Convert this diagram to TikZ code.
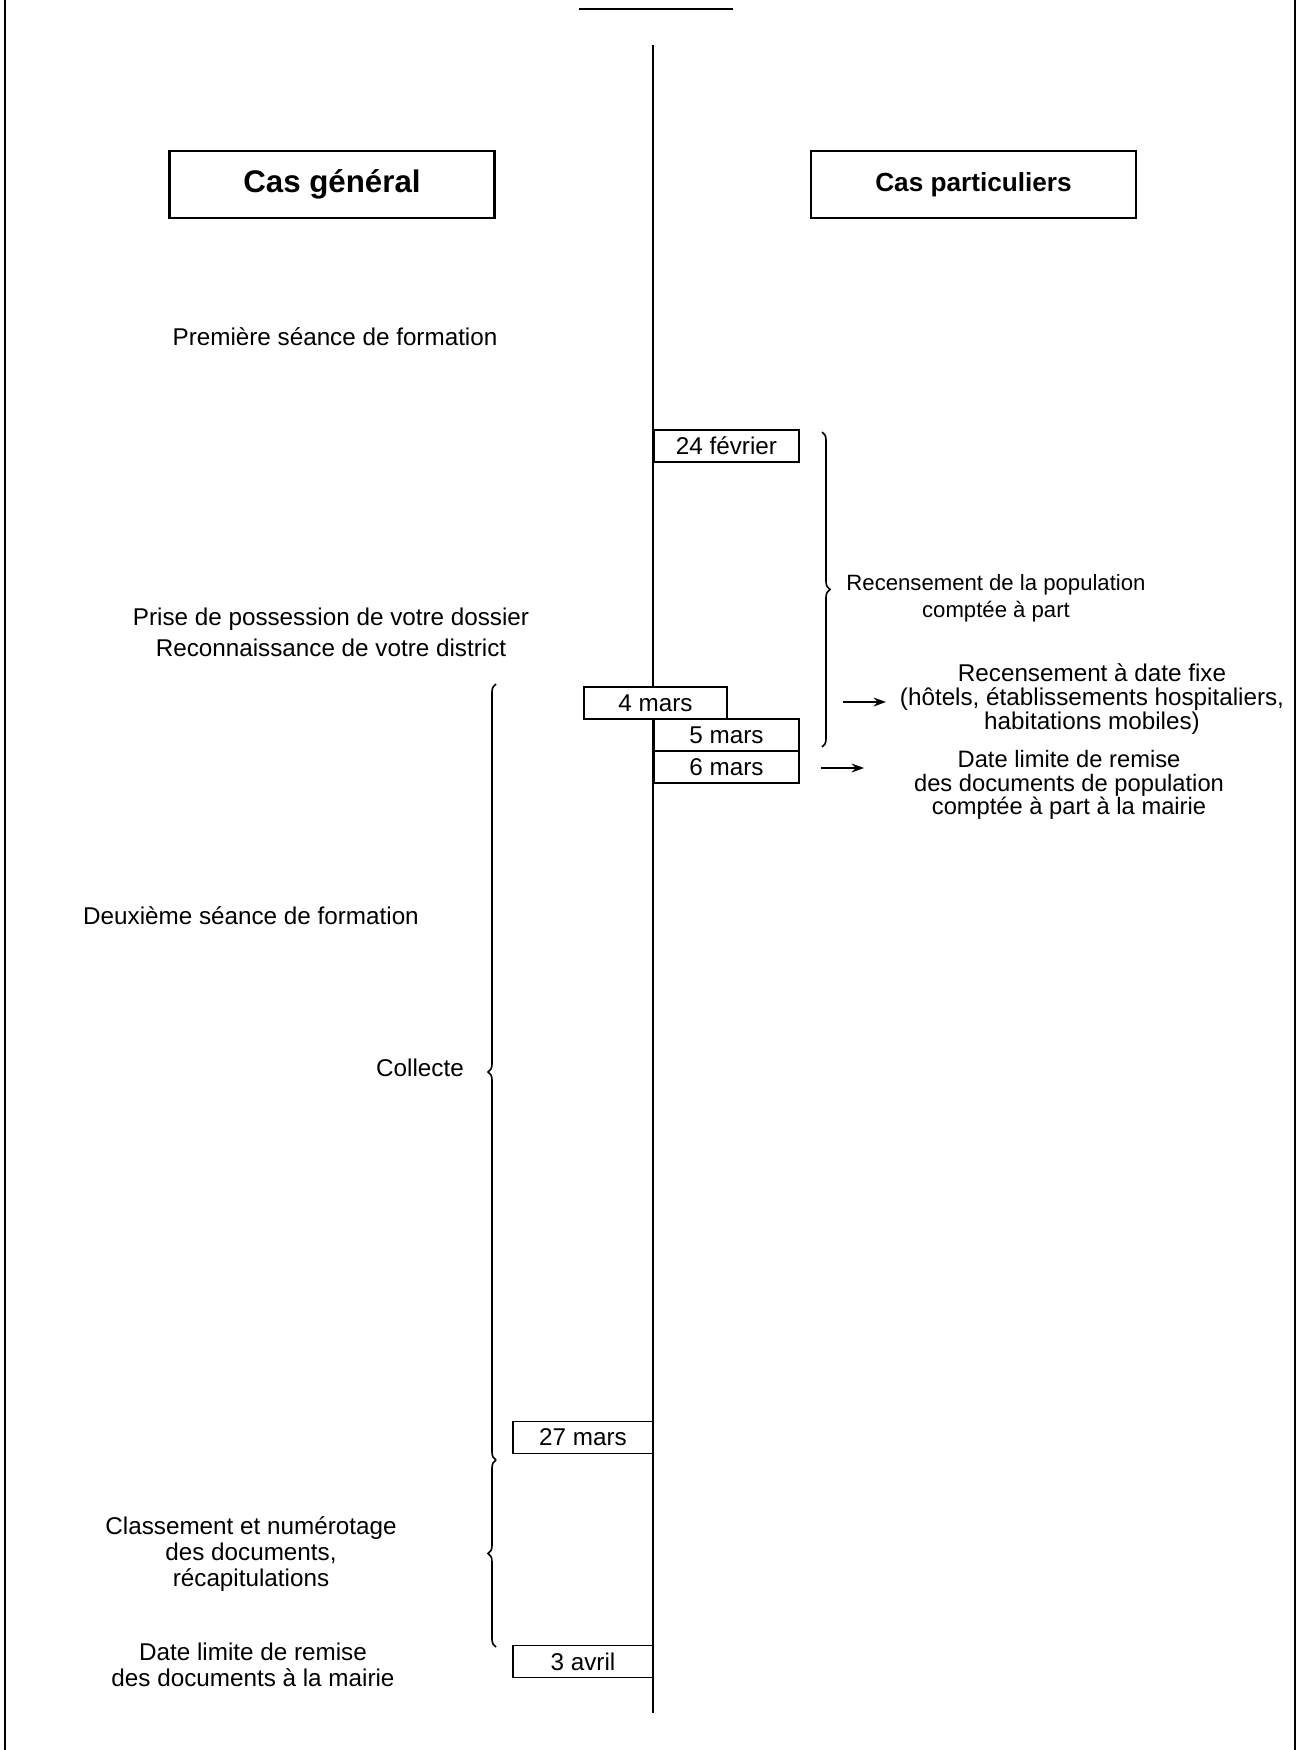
\documentclass[tikz,border=0pt]{standalone}
\usepackage{fontspec}
\setmainfont{Liberation Sans}
\usetikzlibrary{decorations.pathreplacing,arrows.meta}

\begin{document}
\begin{tikzpicture}[x=0.02cm,y=-0.02cm,
	txt/.style={align=center,inner sep=0pt,font=\fontsize{13.8}{14.8}\selectfont},
	datebox/.style={draw,fill=white,line width=1.1pt,minimum height=0.64cm,inner sep=0pt,font=\fontsize{13.8}{14.8}\selectfont},
	headbox/.style={draw,line width=1.4pt,minimum width=6.5cm,minimum height=1.34cm,inner sep=0pt},
	accolade/.style={decorate,decoration={brace,amplitude=0.16cm},line width=0.9pt},
	fleche/.style={-{Stealth[length=7pt,width=5pt]},line width=1.1pt}]
			\def\tlx{653};
			\useasboundingbox (0,0) rectangle (1302,1750);
			\draw[line width=1.2pt] (5,0) -- (5,1750);
			\draw[line width=1.1pt] (1295,0) -- (1295,1750);
			\draw[line width=1.4pt] (579,9) -- (733,9);
			\coordinate (haut) at (\tlx,45);
			\coordinate (bas) at (\tlx,1713);
			\draw[line width=1.3pt] (haut) -- (bas);
			\node[headbox,font=\bfseries\fontsize{17.8}{20}\selectfont] (general) at (332,184.5) {Cas général};
			\node[headbox,font=\bfseries\fontsize{14.9}{17}\selectfont] (particuliers) at (973.5,184.5) {Cas particuliers};
			\node[datebox,minimum width=2.9cm] (fev) at (726.5,446) {24 février};
			\node[datebox,minimum width=2.86cm] (mars4) at (655.5,703) {4 mars};
			\node[datebox,minimum width=2.9cm] (mars5) at (726.5,735) {5 mars};
			\node[datebox,minimum width=2.9cm] (mars6) at (726.5,767) {6 mars};
			\node[datebox,minimum width=2.8cm] (mars27) at (583,1437.5) {27 mars};
			\node[datebox,minimum width=2.8cm] (avril3) at (583,1661.5) {3 avril};
			\node[txt] (seance1) at (335,337) {Première séance de formation};
			\node[txt,font=\fontsize{13.8}{17.6}\selectfont] (dossier) at (331,632) {Prise de possession de votre dossier\\Reconnaissance de votre district};
			\node[txt] (seance2) at (251,916) {Deuxième séance de formation};
			\node[txt] (collecte) at (420,1068) {Collecte};
			\node[txt] (classement) at (251,1554) {Classement et numérotage\\des documents,\\récapitulations};
			\node[txt] (limite) at (253,1665) {Date limite de remise\\des documents à la mairie};
			\node[txt,font=\fontsize{12.6}{15.3}\selectfont] (apart) at (996,598) {Recensement de la population\\comptée à part};
			\node[txt,font=\fontsize{13.8}{13.6}\selectfont] (datefixe) at (1092,699) {Recensement à date fixe\\(hôtels, établissements hospitaliers,\\habitations mobiles)};
			\node[txt,font=\fontsize{13.5}{13.2}\selectfont] (remise) at (1069,785) {Date limite de remise\\des documents de population\\comptée à part à la mairie};
			\coordinate (acc1a) at (822,432);
			\coordinate (acc1b) at (822,747);
			\draw[accolade] (acc1a) -- (acc1b);
			\coordinate (acc2a) at (496,684);
			\coordinate (acc2b) at (496,1460);
			\coordinate (acc3b) at (496,1647);
			\draw[accolade] (acc2b) -- (acc2a);
			\draw[accolade] (acc3b) -- (acc2b);
			\coordinate (f1a) at (843,702);
			\coordinate (f1b) at (886,702);
			\draw[fleche] (f1a) -- (f1b);
			\coordinate (f2a) at (821,768);
			\coordinate (f2b) at (864,768);
			\draw[fleche] (f2a) -- (f2b);
			\end{tikzpicture}
\end{document}
